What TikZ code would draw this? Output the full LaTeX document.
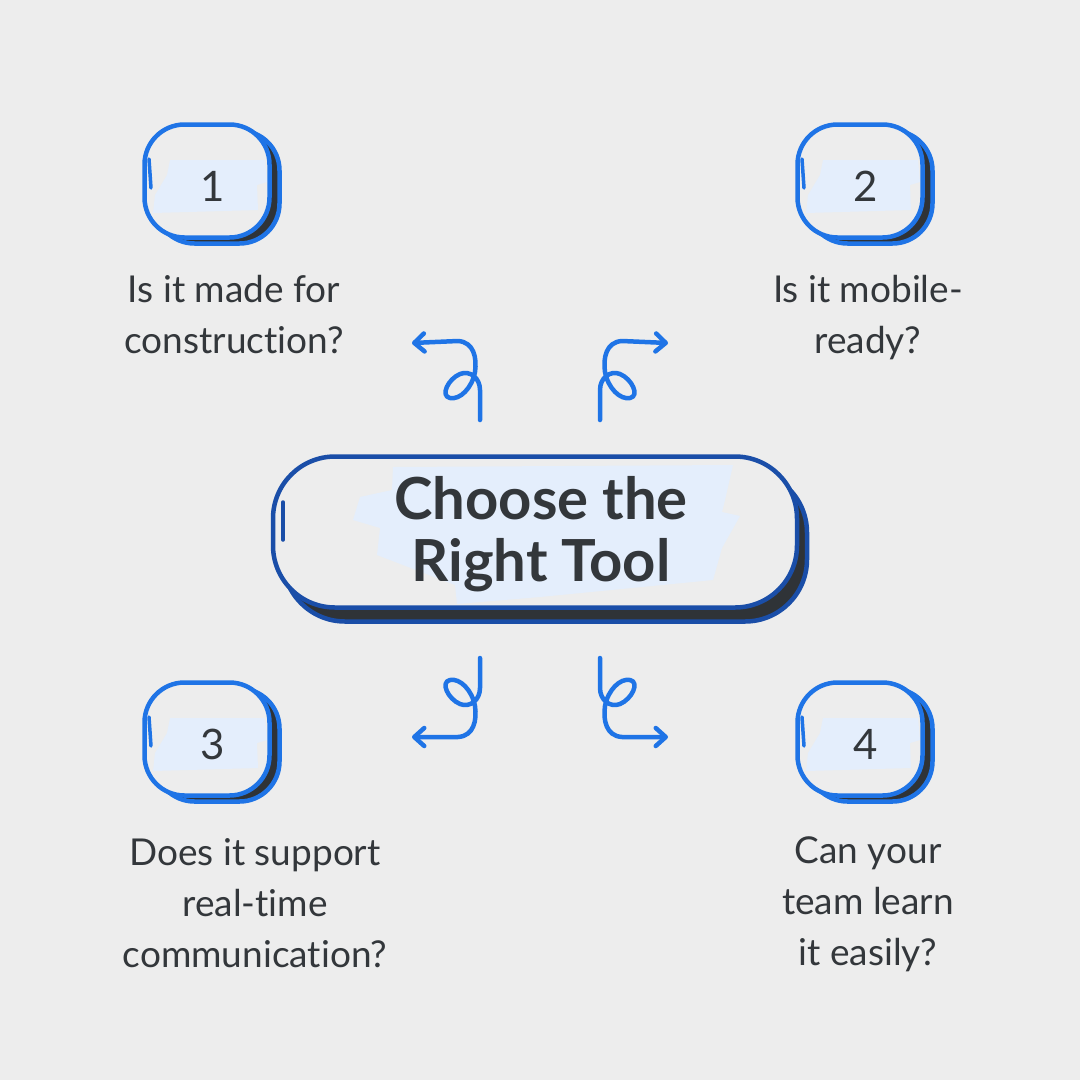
\documentclass[tikz,border=0pt]{standalone}
\usepackage{fontspec}
\setmainfont{Lato}[Ligatures=NoCommon]
\usetikzlibrary{arrows.meta}

\definecolor{paper}{HTML}{EDEDED}
\definecolor{boxblue}{HTML}{1F74E6}
\definecolor{titleblue}{HTML}{1A4EA8}
\definecolor{shade}{HTML}{2F3337}
\definecolor{hilite}{HTML}{E4EEFC}
\definecolor{ink}{HTML}{33373B}

\begin{document}
\begin{tikzpicture}[
  x=1pt, y=-1pt,
  numbox/.style={draw=boxblue,line width=4.5pt,rounded corners=40pt,minimum width=125pt,minimum height=113pt,fill=paper},
  numshade/.style={numbox,fill=shade},
  titlebox/.style={draw=titleblue,line width=4.5pt,rounded corners=62pt,minimum width=524pt,minimum height=151pt,fill=paper},
  titleshade/.style={titlebox,fill=shade},
  hl/.style={fill=hilite},
  tick/.style={draw=#1,line width=3.5pt,line cap=round},
  numtxt/.style={text=ink,font=\fontsize{42}{42}\selectfont,inner sep=0pt},
  qtxt/.style={text=ink,align=center,font=\fontsize{37}{51}\selectfont,inner sep=0pt,anchor=base},
  titletxt/.style={text=ink,align=center,font=\fontsize{58}{62}\selectfont\bfseries,inner sep=0pt},
  curl/.style={draw=boxblue,line width=4.5pt,line cap=round,line join=round,-{Straight Barb[length=10pt,width=18pt,round]}}
]
  \useasboundingbox (0,0) rectangle (1080,1080);
  \fill[paper] (0,0) rectangle (1080,1080);

  % title
  \node[titleshade] (ts) at (545,546) {};
  \node[titlebox] (tb) at (535,532) {};
  \fill[hl] (393,467) -- (733,465) -- (725,500) -- (722,512) -- (740,516) -- (722,548) -- (713,580)
    -- (540,597) -- (457,604) -- (455,585) -- (377,555) -- (380,528) -- (353,520) -- (360,497) -- (392,490) -- cycle;
  \draw[tick=titleblue] (283,502) -- (283,540);
  \node[titletxt] (title) at (541,534) {Choose the\\Right Tool};

  % number boxes
  \node[numshade] (s1) at (217,187) {};
  \node[numbox] (b1) at (207,181) {};
  \fill[hl,shift={(207,181)}] (-37,-21) -- (58,-21) -- (60,1) -- (50,4) -- (51,29) -- (-54,32) -- (-52,14) -- (-40,-6) -- cycle;
  \draw[tick=boxblue] (149,159) -- (151,188);
  \node[numtxt] (n1) at (213,186) {1};

  \node[numshade] (s2) at (870,187) {};
  \node[numbox] (b2) at (860,181) {};
  \fill[hl,shift={(860,181)}] (-37,-21) -- (58,-21) -- (60,1) -- (50,4) -- (51,29) -- (-54,32) -- (-52,14) -- (-40,-6) -- cycle;
  \draw[tick=boxblue] (802,159) -- (804,188);
  \node[numtxt] (n2) at (866,186) {2};

  \node[numshade] (s3) at (217,745) {};
  \node[numbox] (b3) at (207,739) {};
  \fill[hl,shift={(207,739)}] (-37,-21) -- (58,-21) -- (60,1) -- (50,4) -- (51,29) -- (-54,32) -- (-52,14) -- (-40,-6) -- cycle;
  \draw[tick=boxblue] (149,717) -- (151,746);
  \node[numtxt] (n3) at (213,744) {3};

  \node[numshade] (s4) at (870,745) {};
  \node[numbox] (b4) at (860,739) {};
  \fill[hl,shift={(860,739)}] (-37,-21) -- (58,-21) -- (60,1) -- (50,4) -- (51,29) -- (-54,32) -- (-52,14) -- (-40,-6) -- cycle;
  \draw[tick=boxblue] (802,717) -- (804,746);
  \node[numtxt] (n4) at (866,744) {4};

  % questions (anchored on the last line)
  \node[qtxt] (q1) at (234,353) {Is it made for\\construction?};
  \node[qtxt] (q2) at (868,353) {Is it mobile-\\ready?};
  \node[qtxt] (q3) at (255,967) {Does it support\\real-time\\communication?};
  \node[qtxt] (q4) at (868,965) {Can your\\team learn\\it easily?};

  % curly arrows
  \coordinate (c1s) at (480,420);
  \coordinate (c1e) at (412,343);
  \coordinate (c2s) at (600,420);
  \coordinate (c2e) at (668,343);
  \coordinate (c3s) at (480,658);
  \coordinate (c3e) at (412,737);
  \coordinate (c4s) at (600,658);
  \coordinate (c4e) at (668,737);

  \draw[curl] (c1s) -- (480,390) .. controls (480,378) and (470,370) .. (460,374)
    .. controls (448,379) and (440,396) .. (450,398) .. controls (460,400) and (472,388) .. (475,372)
    .. controls (477,358) and (474,342) .. (458,341) -- (c1e);
  \draw[curl] (c2s) -- (600,390) .. controls (600,378) and (610,370) .. (620,374)
    .. controls (632,379) and (640,396) .. (630,398) .. controls (620,400) and (608,388) .. (605,372)
    .. controls (603,358) and (606,342) .. (622,341) -- (c2e);
  \draw[curl] (c3s) -- (480,688) .. controls (480,700) and (470,708) .. (460,704)
    .. controls (448,699) and (440,682) .. (450,680) .. controls (460,678) and (472,690) .. (475,706)
    .. controls (477,720) and (474,736) .. (458,737) -- (c3e);
  \draw[curl] (c4s) -- (600,688) .. controls (600,700) and (610,708) .. (620,704)
    .. controls (632,699) and (640,682) .. (630,680) .. controls (620,678) and (608,690) .. (605,706)
    .. controls (603,720) and (606,736) .. (622,737) -- (c4e);

\end{tikzpicture}
\end{document}
